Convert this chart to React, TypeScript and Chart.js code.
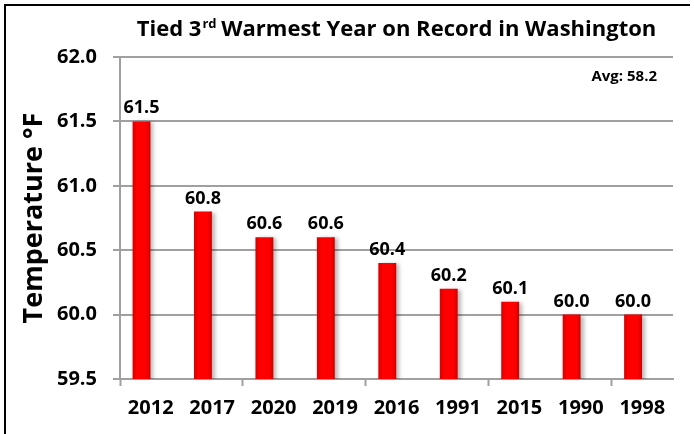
import { useEffect, useRef } from 'react';
import { Chart, registerables } from 'chart.js';

Chart.register(...registerables);

const years = ['2012', '2017', '2020', '2019', '2016', '1991', '2015', '1990', '1998'];
const temps = [61.5, 60.8, 60.6, 60.6, 60.4, 60.2, 60.1, 60.0, 60.0];
const hiddenSeries = [null, null, null, null, null, null, null, null, null];
const yTicks = [59.5, 60.0, 60.5, 61.0, 61.5, 62.0];
const titleParts = ['Tied 3', 'rd', ' Warmest Year on Record in Washington'];
const avgText = 'Avg: 58.2';
const yTitle = 'Temperature °F';

const FONT = "'Open Sans', sans-serif";
const GRID = '#a0a0a0';

const framePlugin = {
  id: 'frame',
  beforeDraw(chart: any) {
    const ctx = chart.ctx;
    ctx.save();
    ctx.fillStyle = '#ffffff';
    ctx.fillRect(0, 0, chart.width, chart.height);
    ctx.fillStyle = '#000000';
    ctx.fillRect(4, 4, 2, chart.height - 4);
    ctx.fillRect(4, 4, 686, 2);
    ctx.restore();
  },
};

const gradientPlugin = {
  id: 'barGradient',
  afterDatasetsUpdate(chart: any) {
    const ctx = chart.ctx;
    const meta = chart.getDatasetMeta(0);
    meta.data.forEach((el: any) => {
      const x = el.x;
      const w = el.width;
      const g = ctx.createLinearGradient(x - w / 2, 0, x + w / 2, 0);
      g.addColorStop(0, '#d80000');
      g.addColorStop(0.25, '#ff0000');
      g.addColorStop(0.75, '#ff0000');
      g.addColorStop(1, '#d00000');
      el.options = Object.assign({}, el.options, { backgroundColor: g });
    });
  },
  beforeDatasetDraw(chart: any, args: any) {
    if (args.index !== 0) return;
    const ctx = chart.ctx;
    ctx.save();
    ctx.shadowColor = 'rgba(0,0,0,0.28)';
    ctx.shadowBlur = 4;
    ctx.shadowOffsetX = 3;
    ctx.shadowOffsetY = 1;
  },
  afterDatasetDraw(chart: any, args: any) {
    if (args.index !== 0) return;
    chart.ctx.restore();
  },
};

const labelPlugin = {
  id: 'valueLabels',
  afterDatasetsDraw(chart: any) {
    const ctx = chart.ctx;
    const meta = chart.getDatasetMeta(0);
    ctx.save();
    ctx.font = `bold 18px ${FONT}`;
    ctx.fillStyle = '#000';
    ctx.textAlign = 'center';
    ctx.textBaseline = 'alphabetic';
    meta.data.forEach((el: any, i: number) => {
      ctx.fillText(temps[i].toFixed(1), el.x, el.y - 8);
    });
    ctx.font = `bold 15px ${FONT}`;
    ctx.textAlign = 'right';
    ctx.fillText(avgText, chart.chartArea.right - 16, 81);
    ctx.restore();
  },
};

const titlePlugin = {
  id: 'supTitle',
  afterDraw(chart: any) {
    const ctx = chart.ctx;
    const area = chart.chartArea;
    ctx.save();
    ctx.fillStyle = '#000';
    ctx.textBaseline = 'alphabetic';
    ctx.textAlign = 'left';
    const big = `bold 22px ${FONT}`;
    const small = `bold 13px ${FONT}`;
    ctx.font = big;
    const w0 = ctx.measureText(titleParts[0]).width;
    const w2 = ctx.measureText(titleParts[2]).width;
    ctx.font = small;
    const w1 = ctx.measureText(titleParts[1]).width;
    const total = w0 + w1 + w2;
    let x = (area.left + area.right) / 2 - total / 2;
    const base = 36;
    ctx.font = big;
    ctx.fillText(titleParts[0], x, base);
    x += w0;
    ctx.font = small;
    ctx.fillText(titleParts[1], x + 1, base - 8);
    x += w1;
    ctx.font = big;
    ctx.fillText(titleParts[2], x, base);
    ctx.restore();
  },
};

export default function App() {
  const ref = useRef<HTMLCanvasElement | null>(null);

  useEffect(() => {
    document.body.style.margin = '0';
    if (!ref.current) return;
    const chart = new Chart(ref.current, {
      type: 'bar',
      data: {
        labels: years,
        datasets: [
          {
            label: 'Temperature',
            data: temps,
            backgroundColor: '#ff0000',
            borderWidth: 0,
            categoryPercentage: 0.6,
            barPercentage: 0.97,
          },
          {
            label: '',
            data: hiddenSeries as any,
            backgroundColor: 'transparent',
            borderWidth: 0,
            categoryPercentage: 0.6,
            barPercentage: 0.97,
          },
        ],
      },
      options: {
        animation: false,
        responsive: false,
        layout: { padding: { top: 57, left: 8, right: 21, bottom: 4 } },
        plugins: {
          legend: { display: false },
          tooltip: { enabled: false },
          title: { display: false },
        },
        scales: {
          x: {
            offset: true,
            grid: {
              offset: true,
              drawOnChartArea: false,
              drawTicks: true,
              tickLength: 7,
              tickWidth: 2,
              tickColor: (c: any) => (c.index !== undefined && c.index % 2 === 0 ? GRID : 'rgba(0,0,0,0)'),
            },
            border: { display: true, color: GRID, width: 2 },
            ticks: {
              color: '#000',
              font: { family: FONT, size: 20, weight: 'bold' },
              padding: 10,
              maxRotation: 0,
              autoSkip: false,
            },
            afterFit: (s: any) => {
              s.height = 434 - 4 - 379;
              s.paddingLeft = 0;
              s.paddingRight = 0;
            },
          },
          y: {
            min: 59.5,
            max: 62,
            afterBuildTicks: (s: any) => {
              s.ticks = yTicks.map((v) => ({ value: v }));
            },
            grid: {
              color: GRID,
              lineWidth: 2,
              drawTicks: true,
              tickLength: 7,
              tickColor: GRID,
            },
            border: { display: true, color: GRID, width: 2 },
            ticks: {
              color: '#000',
              font: { family: FONT, size: 20, weight: 'bold' },
              padding: 16,
              callback: (v: any) => Number(v).toFixed(1),
            },
            title: {
              display: true,
              text: yTitle,
              color: '#000',
              font: { family: FONT, size: 27, weight: 'bold', lineHeight: 1.2 },
              padding: { top: 10, bottom: 0 },
            },
            afterFit: (s: any) => {
              s.width = 120 - 8;
              s.paddingTop = 0;
              s.paddingBottom = 0;
            },
          },
        },
      },
      plugins: [framePlugin, gradientPlugin, labelPlugin, titlePlugin],
    });
    return () => chart.destroy();
  }, []);

  return (
    <div style={{ width: 694, height: 434 }}>
      <canvas ref={ref} width={694} height={434} style={{ display: 'block' }} />
    </div>
  );
}
